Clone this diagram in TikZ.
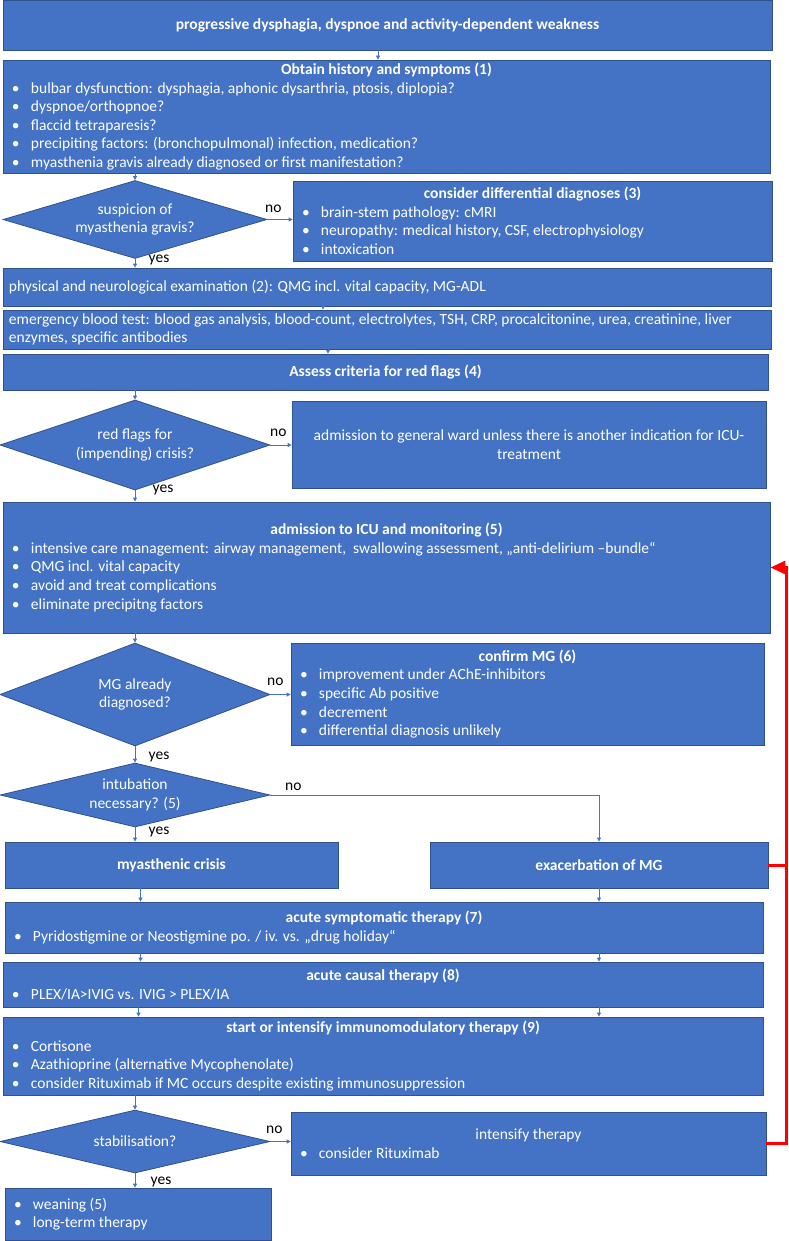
\documentclass[tikz,border=0pt]{standalone}
\usepackage{fontspec}
\setmainfont{Carlito}
\usetikzlibrary{shapes.geometric,arrows.meta}

\definecolor{mgfill}{HTML}{4472C4}
\definecolor{mgedge}{HTML}{2F528F}
\definecolor{mgred}{HTML}{FF0000}

% lines inside the boxes
\newcommand{\panelbody}[2]{\vbox{\hsize=#1\relax #2}}
\newcommand{\boxhead}[1]{\hbox to\hsize{\hss\bfseries #1\hss}}
\newcommand{\boxline}[1]{\hbox to\hsize{\hss #1\hss}}
\newcommand{\plainline}[1]{\hbox to\hsize{#1\hss}}
\newcommand{\bul}[1]{\hbox to\hsize{\makebox[19pt][l]{\textbullet}#1\hss}}

\tikzset{
  panel/.style={draw=mgedge, line width=0.8pt, fill=mgfill, text=white,
    rectangle, inner xsep=9pt, inner ysep=1pt},
  query/.style={draw=mgedge, line width=0.8pt, fill=mgfill, text=white,
    diamond, inner sep=0pt, align=center},
  arr/.style={draw=mgfill, line width=0.8pt, -{Triangle[length=4pt,width=4pt]}},
  lbl/.style={inner sep=0pt, text=black},
  backarr/.style={draw=mgred, line width=3pt, -{Triangle[length=15pt,width=13pt]}},
}

\begin{document}
\begin{tikzpicture}[x=1pt, y={(0pt,-1pt)}, font=\fontsize{15.5pt}{18.6pt}\selectfont]
  \useasboundingbox (0,0) rectangle (788,1241);

  % boxes
  \node[panel, minimum height=50pt] (title) at (387.5,25)
    {\panelbody{751pt}{\boxhead{progressive dysphagia, dyspnoe and activity-dependent weakness}}};
  \node[panel, minimum height=113pt] (obtain) at (386.5,116.5)
    {\panelbody{749pt}{\boxhead{Obtain history and symptoms (1)}
      \bul{bulbar dysfunction: dysphagia, aphonic dysarthria, ptosis, diplopia?}
      \bul{dyspnoe/orthopnoe?}
      \bul{flaccid tetraparesis?}
      \bul{precipiting factors: (bronchopulmonal) infection, medication?}
      \bul{myasthenia gravis already diagnosed or first manifestation?}}};
  \node[query, minimum width=264pt, minimum height=78pt, aspect=3.4] (d1) at (135,219.5)
    {suspicion of\\myasthenia gravis?};
  \node[panel, minimum height=80pt] (ddx) at (532.5,221)
    {\panelbody{461pt}{\boxhead{consider differential diagnoses (3)}
      \bul{brain-stem pathology: cMRI}
      \bul{neuropathy: medical history, CSF, electrophysiology}
      \bul{intoxication}}};
  \node[panel, inner xsep=6pt, minimum height=38pt] (exam) at (387,287)
    {\panelbody{756pt}{\plainline{physical and neurological examination (2): QMG incl. vital capacity, MG-ADL}}};
  \node[panel, inner xsep=6pt, minimum height=39pt] (blood) at (387,329.5)
    {\panelbody{756pt}{\plainline{emergency blood test: blood gas analysis, blood-count, electrolytes, TSH, CRP, procalcitonine, urea, creatinine, liver}
      \plainline{enzymes, specific antibodies}}};
  \node[panel, minimum height=36pt] (redflag) at (385.5,372)
    {\panelbody{747pt}{\boxhead{Assess criteria for red flags (4)}}};
  \node[query, minimum width=270pt, minimum height=90pt, aspect=3] (d2) at (135,445)
    {red flags for\\(impending) crisis?};
  \node[panel, minimum height=87pt] (ward) at (529,444.5)
    {\panelbody{456pt}{\boxline{admission to general ward unless there is another indication for ICU-}
      \boxline{treatment}}};
  \node[panel, minimum height=131pt] (icu) at (386.5,567.5)
    {\panelbody{749pt}{\boxhead{admission to ICU and monitoring (5)}
      \bul{intensive care management: airway management,\ \ swallowing assessment, „anti-delirium –bundle“}
      \bul{QMG incl. vital capacity}
      \bul{avoid and treat complications}
      \bul{eliminate precipitng factors}}};
  \node[query, minimum width=270pt, minimum height=103pt, aspect=2.6] (d3) at (135,694.5)
    {MG already\\diagnosed?};
  \node[panel, minimum height=102pt] (confirm) at (527.5,694)
    {\panelbody{455pt}{\boxhead{confirm MG (6)}
      \bul{improvement under AChE-inhibitors}
      \bul{specific Ab positive}
      \bul{decrement}
      \bul{differential diagnosis unlikely}}};
  \node[query, minimum width=270pt, minimum height=64pt, aspect=4.2] (d4) at (135,795)
    {intubation\\necessary? (5)};
  \node[panel, minimum height=46pt] (crisis) at (171.5,865)
    {\panelbody{315pt}{\boxhead{myasthenic crisis}}};
  \node[panel, minimum height=46pt] (exac) at (599,865)
    {\panelbody{320pt}{\boxhead{exacerbation of MG}}};
  \node[panel, minimum height=51pt] (symp) at (384,927.5)
    {\panelbody{740pt}{\boxhead{acute symptomatic therapy (7)}
      \bul{Pyridostigmine or Neostigmine po. / iv. vs. „drug holiday“}}};
  \node[panel, minimum height=45pt] (causal) at (383,984.5)
    {\panelbody{742pt}{\boxhead{acute causal therapy (8)}
      \bul{PLEX/IA>IVIG vs. IVIG > PLEX/IA}}};
  \node[panel, minimum height=78pt] (immuno) at (383,1056)
    {\panelbody{742pt}{\boxhead{start or intensify immunomodulatory therapy (9)}
      \bul{Cortisone}
      \bul{Azathioprine (alternative Mycophenolate)}
      \bul{consider Rituximab if MC occurs despite existing immunosuppression}}};
  \node[query, minimum width=270pt, minimum height=63pt, aspect=4.3] (d5) at (135,1141.5)
    {stabilisation?};
  \node[panel, minimum height=63pt] (intens) at (528.5,1143.5)
    {\panelbody{457pt}{\boxline{intensify therapy}
      \bul{consider Rituximab}}};
  \node[panel, minimum height=52pt] (wean) at (138,1214)
    {\panelbody{248pt}{\bul{weaning (5)}
      \bul{long-term therapy}}};

  % yes / no
  \node[lbl] (no1) at ([xshift=6pt,yshift=11pt]d1.east) {no};
  \node[lbl] (yes1) at ([xshift=24pt,yshift=-1pt]d1.south) {yes};
  \node[lbl] (no2) at ([xshift=8pt,yshift=12pt]d2.east) {no};
  \node[lbl] (yes2) at ([xshift=28pt,yshift=0pt]d2.south) {yes};
  \node[lbl] (no3) at ([xshift=5pt,yshift=13pt]d3.east) {no};
  \node[lbl] (yes3) at ([xshift=24pt,yshift=-11pt]d3.south) {yes};
  \node[lbl] (no4) at ([xshift=23pt,yshift=8pt]d4.east) {no};
  \node[lbl] (yes4) at ([xshift=24pt,yshift=-5pt]d4.south) {yes};
  \node[lbl] (no5) at ([xshift=4pt,yshift=12pt]d5.east) {no};
  \node[lbl] (yes5) at ([xshift=26pt,yshift=-9pt]d5.south) {yes};

  % connectors
  \draw[arr] ([xshift=-9.5pt]title.south) -- ([xshift=-9.5pt]title.south |- obtain.north);
  \draw[arr] (obtain.south -| d1.north) -- (d1.north);
  \draw[arr] (d1.east) -- (d1.east -| ddx.west);
  \draw[arr] (d1.south) -- (d1.south |- exam.north);
  \draw[arr] ([xshift=-64pt]exam.south) -- ([xshift=-64pt]exam.south |- blood.north);
  \draw[arr] ([xshift=-59pt]blood.south) -- ([xshift=-59pt]blood.south |- redflag.north);
  \draw[arr] (redflag.south -| d2.north) -- (d2.north);
  \draw[arr] (d2.east) -- (d2.east -| ward.west);
  \draw[arr] (d2.south) -- (d2.south |- icu.north);
  \draw[arr] (icu.south -| d3.north) -- (d3.north);
  \draw[arr] (d3.east) -- (d3.east -| confirm.west);
  \draw[arr] (d3.south) -- (d4.north);
  \draw[arr] (d4.east) -| (exac.north);
  \draw[arr] (d4.south) -- (d4.south |- crisis.north);
  \draw[arr] ([xshift=-31pt]crisis.south) -- ([xshift=-31pt]crisis.south |- symp.north);
  \draw[arr] (exac.south) -- (exac.south |- symp.north);
  \draw[arr] ([xshift=-31pt]crisis.south |- symp.south) -- ([xshift=-31pt]crisis.south |- causal.north);
  \draw[arr] (symp.south -| exac.south) -- (causal.north -| exac.south);
  \draw[arr] ([xshift=-33pt]crisis.south |- causal.south) -- ([xshift=-33pt]crisis.south |- immuno.north);
  \draw[arr] (causal.south -| exac.south) -- (immuno.north -| exac.south);
  \draw[arr] (immuno.south -| d5.north) -- (d5.north);
  \draw[arr] (d5.east) -- (d5.east -| intens.west);
  \draw[arr] (d5.south) -- (d5.south |- wean.north);

  % way back
  \coordinate (loop) at (786,0);
  \draw[backarr] (intens.east) -- (intens.east -| loop) -- (icu.east -| loop) -- (icu.east);
  \draw[mgred, line width=3pt] (exac.east) -- (exac.east -| loop);
\end{tikzpicture}
\end{document}
